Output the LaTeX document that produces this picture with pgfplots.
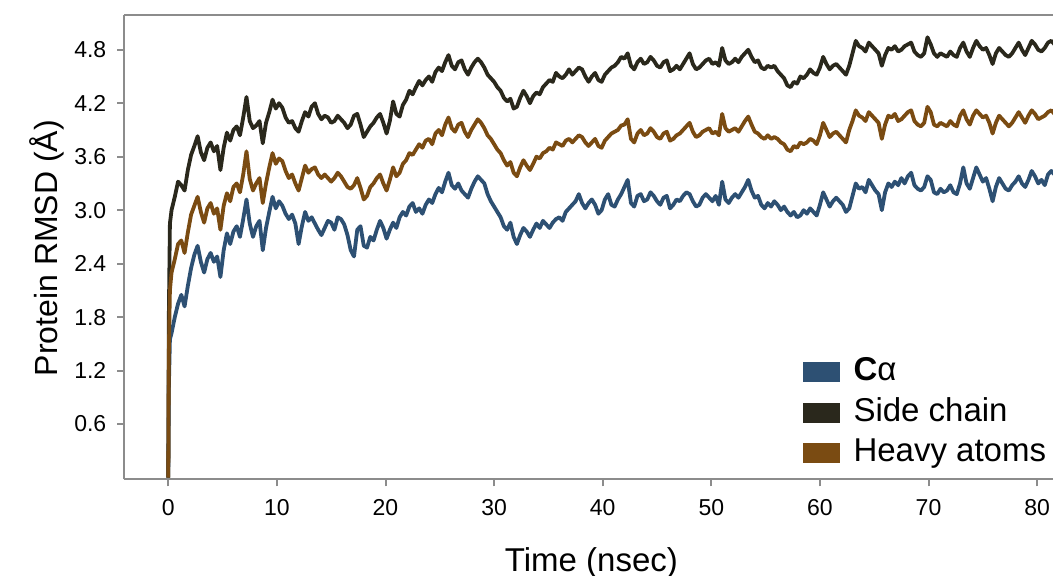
\documentclass[border=0pt]{standalone}
\usepackage{pgfplots}
\usepackage{pgfplotstable}
\usepackage{fontspec}
\setmainfont{Liberation Sans}
\pgfplotsset{compat=1.18}
\definecolor{cablue}{RGB}{45,80,115}
\definecolor{scdark}{RGB}{42,40,28}
\definecolor{habrown}{RGB}{122,75,18}
\definecolor{axgray}{RGB}{140,140,140}

% t (nsec), C-alpha, side chain, heavy atoms RMSD
\pgfplotstableread{
t ca sc ha
0.0 0.00 0.00 0.00
0.05 1.00 1.80 1.40
0.15 1.55 2.85 2.10
0.3 1.62 3.00 2.30
0.6 1.80 3.15 2.45
0.9 1.95 3.32 2.62
1.2 2.05 3.28 2.66
1.5 1.92 3.22 2.52
1.8 2.15 3.45 2.75
2.1 2.35 3.62 2.95
2.4 2.50 3.72 3.05
2.7 2.60 3.83 3.15
3.0 2.42 3.65 2.98
3.3 2.30 3.56 2.86
3.6 2.45 3.70 3.02
3.9 2.52 3.76 3.08
4.2 2.42 3.66 2.96
4.5 2.48 3.72 3.02
4.8 2.25 3.45 2.78
5.1 2.55 3.70 3.05
5.4 2.74 3.87 3.19
5.7 2.62 3.78 3.10
6.0 2.76 3.90 3.26
6.3 2.82 3.94 3.30
6.6 2.70 3.84 3.20
6.9 2.90 4.04 3.40
7.2 3.12 4.27 3.66
7.5 2.85 4.00 3.35
7.8 2.70 3.92 3.22
8.1 2.82 3.95 3.30
8.4 2.88 4.00 3.36
8.7 2.55 3.75 3.08
9.0 2.80 3.98 3.30
9.3 2.98 4.10 3.48
9.6 3.15 4.24 3.64
9.9 3.02 4.14 3.52
10.2 3.10 4.20 3.58
10.5 3.05 4.15 3.55
10.8 2.96 4.04 3.44
11.1 2.90 3.98 3.36
11.4 2.95 4.00 3.40
11.7 2.85 3.92 3.30
12.0 2.62 3.88 3.22
12.3 2.82 4.00 3.36
12.6 2.98 4.10 3.50
12.9 2.88 4.05 3.42
13.2 2.92 4.16 3.46
13.5 2.85 4.20 3.48
13.8 2.78 4.08 3.40
14.1 2.72 4.02 3.36
14.4 2.80 4.06 3.40
14.7 2.88 4.04 3.36
15.0 2.86 3.98 3.32
15.3 2.78 4.00 3.36
15.6 2.92 4.06 3.42
15.9 2.90 4.02 3.38
16.2 2.84 3.98 3.32
16.5 2.72 3.92 3.26
16.8 2.55 3.96 3.24
17.1 2.48 4.06 3.28
17.4 2.78 4.08 3.36
17.7 2.82 3.96 3.25
18.0 2.60 3.82 3.12
18.3 2.58 3.88 3.16
18.6 2.70 3.94 3.26
18.9 2.66 3.98 3.30
19.2 2.78 4.04 3.36
19.5 2.88 4.08 3.40
19.8 2.80 3.98 3.30
20.1 2.68 3.86 3.22
20.4 2.78 4.00 3.34
20.7 2.86 4.22 3.48
21.0 2.80 4.08 3.38
21.3 2.92 4.05 3.42
21.6 2.98 4.18 3.52
21.9 2.94 4.24 3.56
22.2 3.04 4.34 3.64
22.5 3.08 4.30 3.62
22.8 2.98 4.38 3.68
23.1 3.02 4.45 3.74
23.4 2.96 4.40 3.70
23.7 3.06 4.46 3.78
24.0 3.12 4.50 3.80
24.3 3.08 4.44 3.74
24.6 3.18 4.55 3.86
24.9 3.25 4.60 3.90
25.2 3.20 4.56 3.84
25.5 3.32 4.66 3.96
25.8 3.42 4.74 4.04
26.1 3.28 4.62 3.92
26.4 3.24 4.58 3.88
26.7 3.30 4.66 3.96
27.0 3.22 4.68 3.98
27.3 3.18 4.58 3.88
27.6 3.14 4.52 3.82
27.9 3.24 4.60 3.90
28.2 3.32 4.66 3.96
28.5 3.38 4.70 4.02
28.8 3.34 4.66 3.98
29.1 3.30 4.60 3.92
29.4 3.18 4.52 3.84
29.7 3.10 4.48 3.80
30.0 3.04 4.44 3.74
30.3 2.98 4.38 3.68
30.6 2.92 4.34 3.64
30.9 2.82 4.26 3.56
31.2 2.78 4.22 3.50
31.5 2.86 4.25 3.54
31.8 2.70 4.14 3.42
32.1 2.62 4.16 3.38
32.4 2.72 4.26 3.48
32.7 2.80 4.34 3.56
33.0 2.76 4.28 3.50
33.3 2.70 4.20 3.45
33.6 2.78 4.28 3.52
33.9 2.85 4.32 3.60
34.2 2.80 4.30 3.58
34.5 2.88 4.38 3.64
34.8 2.84 4.42 3.66
35.1 2.80 4.46 3.70
35.4 2.86 4.44 3.68
35.7 2.90 4.54 3.76
36.0 2.92 4.50 3.74
36.3 2.88 4.48 3.72
36.6 2.98 4.52 3.78
36.9 3.02 4.58 3.80
37.2 3.06 4.52 3.76
37.5 3.10 4.56 3.80
37.8 3.18 4.60 3.84
38.1 3.08 4.58 3.82
38.4 3.02 4.50 3.76
38.7 3.08 4.44 3.72
39.0 3.12 4.50 3.76
39.3 3.06 4.54 3.80
39.6 2.96 4.46 3.72
39.9 3.00 4.44 3.70
40.2 3.12 4.52 3.78
40.5 3.18 4.56 3.82
40.8 3.06 4.60 3.86
41.1 3.04 4.62 3.88
41.4 3.12 4.66 3.90
41.7 3.18 4.72 3.95
42.0 3.26 4.70 3.96
42.3 3.34 4.76 4.02
42.6 3.08 4.62 3.80
42.9 3.04 4.58 3.76
43.2 3.16 4.66 3.86
43.5 3.18 4.70 3.90
43.8 3.10 4.64 3.84
44.1 3.12 4.66 3.86
44.4 3.20 4.72 3.92
44.7 3.16 4.68 3.88
45.0 3.10 4.62 3.82
45.3 3.06 4.60 3.80
45.6 3.14 4.66 3.86
45.9 3.16 4.68 3.88
46.2 3.02 4.56 3.78
46.5 3.06 4.58 3.80
46.8 3.12 4.62 3.84
47.1 3.10 4.58 3.86
47.4 3.16 4.64 3.90
47.7 3.20 4.70 3.94
48.0 3.18 4.76 3.98
48.3 3.10 4.64 3.88
48.6 3.04 4.58 3.82
48.9 3.06 4.60 3.84
49.2 3.14 4.64 3.88
49.5 3.18 4.68 3.90
49.8 3.14 4.70 3.92
50.1 3.10 4.64 3.86
50.4 3.16 4.66 3.88
50.7 3.06 4.62 3.84
51.0 3.32 4.82 4.08
51.3 3.12 4.68 3.92
51.6 3.08 4.64 3.88
51.9 3.14 4.66 3.90
52.2 3.18 4.70 3.92
52.5 3.14 4.66 3.88
52.8 3.20 4.72 3.94
53.1 3.26 4.76 4.00
53.4 3.34 4.80 4.05
53.7 3.22 4.72 3.96
54.0 3.14 4.66 3.88
54.3 3.16 4.68 3.86
54.6 3.06 4.60 3.82
54.9 3.02 4.58 3.80
55.2 3.08 4.62 3.84
55.5 3.04 4.60 3.80
55.8 3.10 4.62 3.82
56.1 3.06 4.56 3.80
56.4 3.00 4.52 3.76
56.7 3.04 4.48 3.74
57.0 2.98 4.40 3.68
57.3 2.94 4.38 3.66
57.6 2.98 4.44 3.72
57.9 2.92 4.42 3.70
58.2 2.94 4.50 3.76
58.5 3.00 4.48 3.74
58.8 2.96 4.52 3.76
59.1 3.02 4.58 3.80
59.4 2.98 4.54 3.78
59.7 2.94 4.52 3.74
60.0 3.06 4.60 3.84
60.3 3.20 4.72 3.98
60.6 3.12 4.64 3.90
60.9 3.04 4.58 3.82
61.2 3.10 4.62 3.86
61.5 3.14 4.64 3.88
61.8 3.10 4.60 3.84
62.1 3.06 4.56 3.80
62.4 2.98 4.52 3.76
62.7 3.02 4.62 3.90
63.0 3.16 4.76 4.00
63.3 3.30 4.90 4.12
63.6 3.24 4.84 4.06
63.9 3.26 4.82 4.04
64.2 3.20 4.78 4.00
64.5 3.34 4.88 4.10
64.8 3.28 4.84 4.06
65.1 3.22 4.80 4.02
65.4 3.18 4.76 3.98
65.7 3.00 4.62 3.80
66.0 3.20 4.74 3.96
66.3 3.30 4.82 4.06
66.6 3.26 4.80 4.04
66.9 3.32 4.84 4.08
67.2 3.28 4.78 4.00
67.5 3.36 4.80 4.02
67.8 3.30 4.84 4.06
68.1 3.38 4.86 4.10
68.4 3.42 4.88 4.12
68.7 3.28 4.78 4.00
69.0 3.24 4.74 3.96
69.3 3.22 4.72 3.94
69.6 3.26 4.76 3.98
69.9 3.38 4.94 4.16
70.2 3.34 4.86 4.10
70.5 3.20 4.76 3.96
70.8 3.18 4.72 3.94
71.1 3.24 4.76 3.98
71.4 3.20 4.74 3.96
71.7 3.22 4.72 3.94
72.0 3.28 4.78 4.00
72.3 3.20 4.74 3.96
72.6 3.18 4.72 3.94
72.9 3.30 4.82 4.06
73.2 3.48 4.88 4.12
73.5 3.30 4.78 4.02
73.8 3.24 4.72 3.96
74.1 3.36 4.82 4.06
74.4 3.48 4.90 4.12
74.7 3.40 4.84 4.08
75.0 3.32 4.80 4.04
75.3 3.36 4.82 4.06
75.6 3.24 4.74 3.98
75.9 3.10 4.64 3.86
76.2 3.26 4.76 3.98
76.5 3.36 4.82 4.06
76.8 3.30 4.78 4.02
77.1 3.24 4.74 3.98
77.4 3.22 4.72 3.94
77.7 3.28 4.76 3.98
78.0 3.32 4.82 4.04
78.3 3.38 4.88 4.10
78.6 3.30 4.80 4.04
78.9 3.26 4.74 3.98
79.2 3.34 4.82 4.06
79.5 3.44 4.90 4.12
79.8 3.38 4.86 4.08
80.1 3.30 4.80 4.02
80.4 3.34 4.78 4.04
80.7 3.28 4.82 4.06
81.0 3.40 4.88 4.10
81.3 3.44 4.90 4.12
81.6 3.40 4.86 4.08
}\rmsd

\begin{document}
\begin{tikzpicture}
\begin{axis}[
  scale only axis,
  width=464.35pt, height=232.15pt,
  xmin=-4.05, xmax=81.46,
  ymin=-0.02, ymax=5.19,
  axis x line=box, axis y line=left,
  axis line style={-, draw=axgray, line width=1pt},
  xtick={0,10,...,80},
  ytick={0.6,1.2,1.8,2.4,3.0,3.6,4.2,4.8},
  xtick pos=lower, ytick pos=left,
  tick align=outside,
  major tick length=3.5pt,
  major tick style={draw=axgray, line width=1pt},
  minor tick num=0,
  yticklabel style={/pgf/number format/.cd, fixed, fixed zerofill, precision=1, /tikz/.cd, xshift=-2pt},
  xticklabel style={yshift=-3pt},
  /pgf/number format/assume math mode=true,
  ticklabel style={font=\fontsize{11.5}{13}\selectfont},
  xlabel={Time (nsec)},
  ylabel={Protein RMSD (Å)},
  xlabel style={font=\fontsize{16.5}{19}\selectfont, at={(axis description cs:0.503,0)}, anchor=base, yshift=-46.3pt},
  ylabel style={font=\fontsize{16}{19}\selectfont, at={(axis description cs:-0.0835,0.498)}, anchor=center},
  legend style={at={(axis description cs:0.73,0.265)}, anchor=north west,
    draw=none, fill=none, font=\fontsize{16.5}{19}\selectfont,
    row sep=4.8pt, inner sep=0pt,
    nodes={inner sep=0pt, text height=12pt, text depth=3.5pt, anchor=west}},
  legend cell align=left,
  legend image code/.code={\fill[#1,draw=none] (0pt,-5pt) rectangle (18.5pt,5pt); \path (24.5pt,0pt);},
  every axis plot/.append style={line width=1.9pt, line join=round},
]
\addplot[color=cablue] table[x=t, y=ca] {\rmsd};
\addplot[color=scdark] table[x=t, y=sc] {\rmsd};
\addplot[color=habrown] table[x=t, y=ha] {\rmsd};
\legend{\textbf{C}α, Side chain, Heavy atoms}
\coordinate (sw) at (rel axis cs:0,0);
\coordinate (ne) at (rel axis cs:1,1);
\end{axis}
\pgfresetboundingbox
\path ([shift={(-62.15pt,-48.35pt)}]sw) rectangle ([shift={(0pt,7.5pt)}]ne);
\end{tikzpicture}
\end{document}
